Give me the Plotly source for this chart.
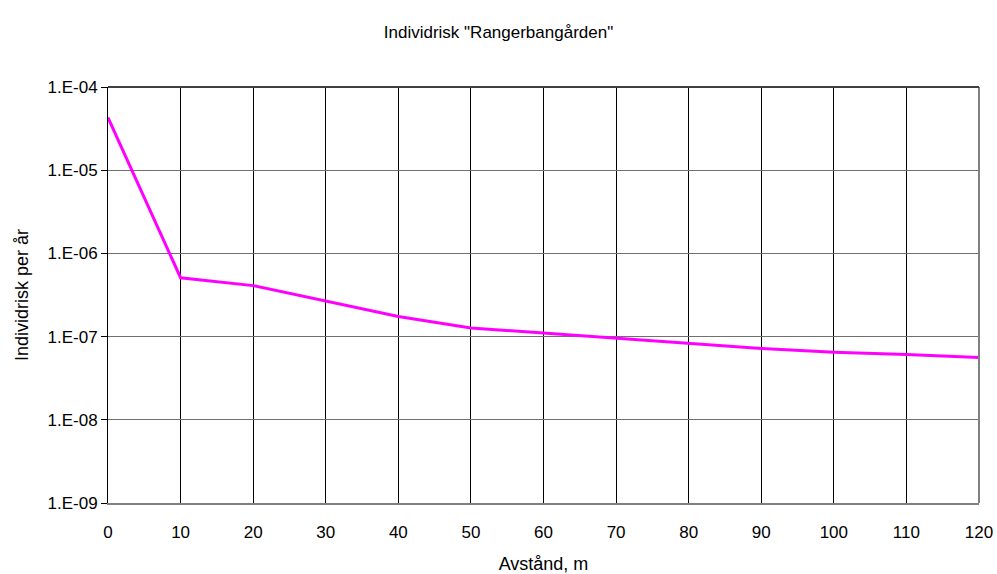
import plotly.graph_objects as go

# Distance from the track (m) and individual risk per year
avstand = [0, 10, 20, 30, 40, 50, 60, 70, 80, 90, 100, 110, 120]
individrisk = [4.3e-5, 5.1e-7, 4.1e-7, 2.68e-7, 1.74e-7, 1.27e-7, 1.10e-7,
               9.7e-8, 8.3e-8, 7.2e-8, 6.5e-8, 6.1e-8, 5.6e-8]

y_tickvals = [1e-9, 1e-8, 1e-7, 1e-6, 1e-5, 1e-4]
y_ticktext = ["1.E-09", "1.E-08", "1.E-07", "1.E-06", "1.E-05", "1.E-04"]
x_tickvals = list(range(0, 121, 10))

font = "Liberation Sans, Arial, sans-serif"

fig = go.Figure()
fig.add_trace(go.Scatter(
    x=avstand, y=individrisk, mode="lines",
    line=dict(color="#FF00FF", width=3),
    showlegend=False, hoverinfo="skip",
))

fig.update_layout(
    width=997, height=574,
    margin=dict(l=108, r=18, t=87, b=71, autoexpand=False),
    paper_bgcolor="white", plot_bgcolor="white",
    font=dict(family=font, color="black", size=17),
    title=dict(text='Individrisk "Rangerbangården"', x=0.5, xref="container",
               xanchor="center", y=1 - 32 / 574, yanchor="middle",
               font=dict(size=17, family=font, color="black")),
)

fig.update_xaxes(
    range=[0, 120], tickvals=x_tickvals, ticks="",
    showgrid=True, gridcolor="#000000", gridwidth=1,
    showline=True, linecolor="#808080", linewidth=2,
    zeroline=False, tickfont=dict(size=17), ticklabelstandoff=13,
    ticklabeloverflow="allow", automargin=False,
    title=dict(text="Avstånd, m", font=dict(size=18), standoff=22),
)
fig.update_yaxes(
    type="log", range=[-9, -4], tickvals=y_tickvals, ticktext=y_ticktext,
    ticks="outside", ticklen=6, tickcolor="#000000",
    showgrid=True, gridcolor="#707070", gridwidth=1,
    showline=True, linecolor="#000000", linewidth=1,
    zeroline=False, tickfont=dict(size=17), automargin=False,
    title=dict(text="Individrisk per år", font=dict(size=18), standoff=14),
)

# Frame around the plotting area (right edge and top)
fig.add_shape(type="line", xref="paper", yref="paper", x0=1, x1=1, y0=0, y1=1,
              line=dict(color="#808080", width=2))
fig.add_shape(type="line", xref="paper", yref="paper", x0=0, x1=1, y0=1, y1=1,
              line=dict(color="#404040", width=2))

fig.write_html("out.html")
